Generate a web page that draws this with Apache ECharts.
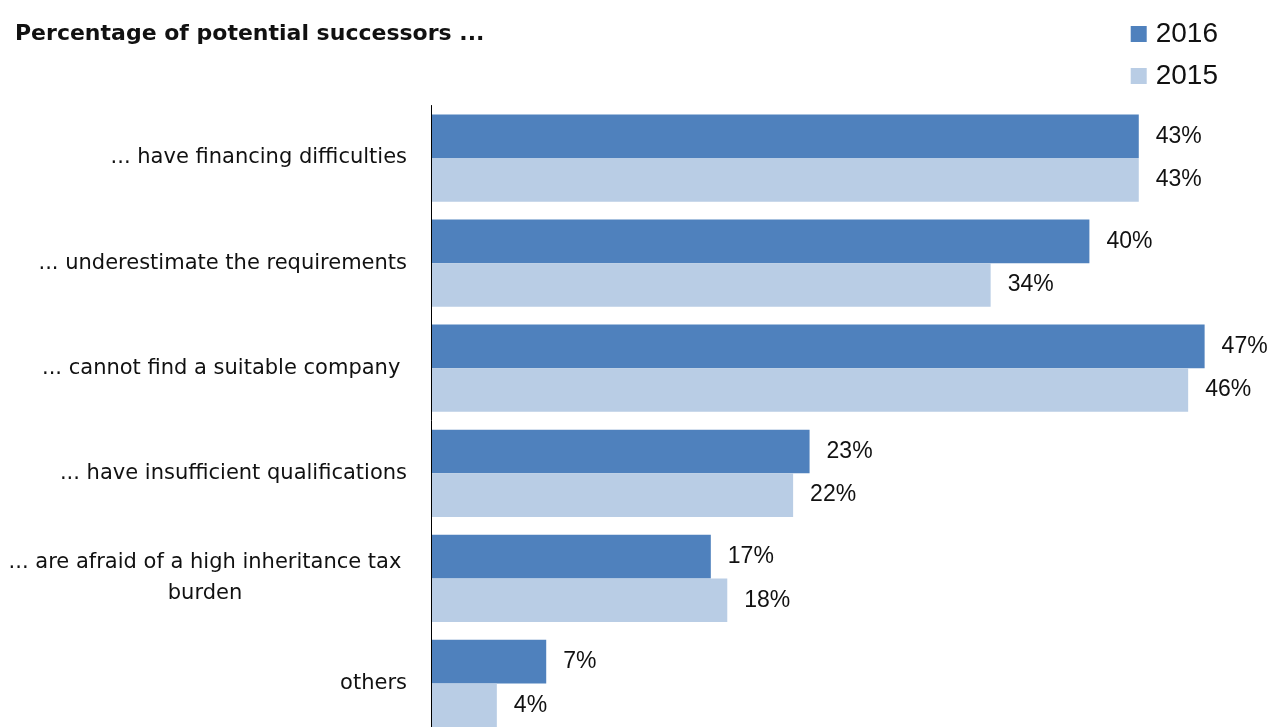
<!DOCTYPE html>
<html><head><meta charset="utf-8">
<script src="https://cdn.jsdelivr.net/npm/echarts@6/dist/echarts.min.js"></script>
<style>html,body{margin:0;padding:0;background:#fff;overflow:hidden}#c{width:1268px;height:736px}</style>
</head><body><div id="c"></div>
<script>
const categories = [
  '... have financing difficulties',
  '... underestimate the requirements',
  '... cannot find a suitable company ',
  '... have insufficient qualifications',
  '... are afraid of a high inheritance tax\nburden',
  'others'
];
const values2016 = [43, 40, 47, 23, 17, 7];
const values2015 = [43, 34, 46, 22, 18, 4];
const seriesNames = ['2016', '2015'];

const chart = echarts.init(document.getElementById('c'));
const catFont = 'DejaVu Sans';
const labelCfg = {
  show: true, position: 'right', distance: 17,
  formatter: p => p.value + '%',
  fontFamily: 'Liberation Sans', fontSize: 23, color: '#111'
};
chart.setOption({
  animation: false,
  title: {
    text: 'Percentage of potential successors ...',
    left: 10, top: 18,
    textStyle: {fontFamily: catFont, fontWeight: 'bold', fontSize: 22, color: '#111'}
  },
  legend: {
    right: 45, top: 15, orient: 'vertical', itemGap: 14,
    itemWidth: 16, itemHeight: 16, icon: 'rect',
    textStyle: {fontFamily: 'Liberation Sans', fontSize: 28, color: '#111', padding: [0, 0, 0, 4]},
    data: seriesNames
  },
  grid: {left: 431, right: 14, top: 105.5, bottom: 0, containLabel: false},
  xAxis: {type: 'value', min: 0, max: 50, show: false},
  yAxis: {
    type: 'category', inverse: true, z: 10,
    data: categories,
    axisLine: {show: true, lineStyle: {color: '#000', width: 1}},
    axisTick: {show: false},
    axisLabel: {
      margin: 24, fontFamily: catFont, fontSize: 21, color: '#111',
      formatter: (v) => v.indexOf('\n') >= 0 ? v.split('\n').map(s => '{c|' + s + '}').join('\n') : v,
      rich: {c: {width: 404, align: 'center', fontFamily: catFont, fontSize: 21, color: '#111', lineHeight: 31}}
    }
  },
  series: [
    {name: seriesNames[0], type: 'bar', data: values2016, barGap: '0%', barCategoryGap: '17%',
     itemStyle: {color: '#4F81BD'}, label: labelCfg},
    {name: seriesNames[1], type: 'bar', data: values2015, barGap: '0%', barCategoryGap: '17%',
     itemStyle: {color: '#B9CDE5'}, label: labelCfg}
  ]
});
</script></body></html>
